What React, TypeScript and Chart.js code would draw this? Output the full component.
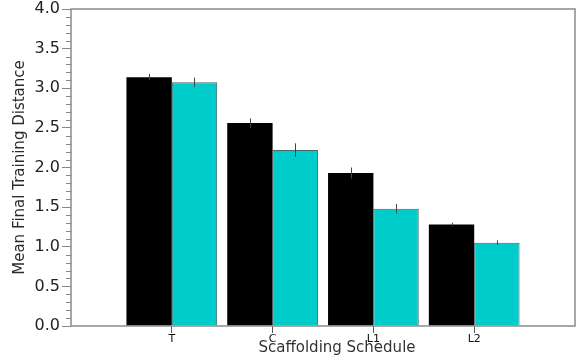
import React, { useEffect, useRef } from "react";
import { Chart, registerables } from "chart.js";

Chart.register(...registerables);

// Scaffolding schedules on the x axis (placed at 1..4 on a linear scale)
const schedules = ["T", "C", "L1", "L2"];
const positions = [1, 2, 3, 4];

// Mean final training distance per schedule, two conditions
const seriesA = [3.14, 2.56, 1.93, 1.28];
const seriesB = [3.075, 2.22, 1.48, 1.05];

// Standard errors
const errorsA = [0.04, 0.06, 0.07, 0.025];
const errorsB = [0.06, 0.085, 0.06, 0.03];

const yTickLabels = ["0.0", "0.5", "1.0", "1.5", "2.0", "2.5", "3.0", "3.5", "4.0"];

const FONT = "'DejaVu Sans', Verdana, sans-serif";

const framePlugin = {
  id: "frame",
  afterDraw(chart: any) {
    const { ctx, chartArea } = chart;
    const y = chart.scales.y;
    ctx.save();
    // minor ticks on the y axis every 0.1
    ctx.strokeStyle = "#888";
    ctx.lineWidth = 1;
    for (let i = 0; i <= 40; i++) {
      if (i % 5 === 0) continue;
      const py = Math.round(y.getPixelForValue(i / 10)) + 0.5;
      ctx.beginPath();
      ctx.moveTo(chartArea.left - 5, py);
      ctx.lineTo(chartArea.left, py);
      ctx.stroke();
    }
    // plot frame
    ctx.strokeStyle = "#8a8a8a";
    ctx.lineWidth = 1.5;
    ctx.strokeRect(chartArea.left, chartArea.top, chartArea.right - chartArea.left, chartArea.bottom - chartArea.top);
    // x axis title
    ctx.fillStyle = "#333";
    ctx.font = `15px ${FONT}`;
    ctx.textAlign = "center";
    ctx.textBaseline = "middle";
    ctx.fillText("Scaffolding Schedule", chartArea.left + 266, 348);
    ctx.restore();
  },
};

const errorBarPlugin = {
  id: "errorBars",
  afterDatasetsDraw(chart: any) {
    const { ctx } = chart;
    const y = chart.scales.y;
    const errs = [errorsA, errorsB];
    ctx.save();
    ctx.strokeStyle = "#444";
    ctx.lineWidth = 1;
    chart.data.datasets.forEach((ds: any, di: number) => {
      const meta = chart.getDatasetMeta(di);
      meta.data.forEach((bar: any, i: number) => {
        const v = ds.data[i].y;
        const e = errs[di][i];
        const x = Math.round(bar.x) + 0.5;
        ctx.beginPath();
        ctx.moveTo(x, y.getPixelForValue(v - e));
        ctx.lineTo(x, y.getPixelForValue(v + e));
        ctx.stroke();
      });
    });
    ctx.restore();
  },
};

export default function App() {
  const ref = useRef<HTMLCanvasElement>(null);

  useEffect(() => {
    if (!ref.current) return;
    const chart = new Chart(ref.current, {
      type: "bar",
      data: {
        datasets: [
          {
            label: "A",
            data: positions.map((p, i) => ({ x: p, y: seriesA[i] })),
            backgroundColor: "#000000",
            borderColor: "#000000",
            borderWidth: 0,
            barPercentage: 1.0,
            categoryPercentage: 0.9,
          },
          {
            label: "B",
            data: positions.map((p, i) => ({ x: p, y: seriesB[i] })),
            backgroundColor: "#00cccc",
            borderColor: "#3a6a6a",
            borderWidth: 1,
            barPercentage: 1.0,
            categoryPercentage: 0.9,
          },
        ],
      },
      options: {
        animation: false,
        responsive: false,
        layout: { padding: { top: 9, right: 8, left: 0, bottom: 0 } },
        plugins: { legend: { display: false }, tooltip: { enabled: false } },
        scales: {
          x: {
            type: "linear",
            min: 0,
            max: 5,
            offset: false,
            grid: { display: true, offset: false, drawOnChartArea: false, tickLength: 7, color: "#555", drawTicks: true },
            border: { display: false },
            afterBuildTicks: (scale: any) => {
              scale.ticks = positions.map((p) => ({ value: p }));
            },
            afterFit: (scale: any) => {
              scale.height = 34;
              scale.paddingLeft = 0;
              scale.paddingRight = 0;
            },
            ticks: {
              autoSkip: false,
              maxRotation: 0,
              padding: 0,
              color: "#111",
              font: { family: FONT, size: 11 },
              callback: (v: any) => schedules[positions.indexOf(Number(v))] ?? "",
            },
          },
          y: {
            min: 0,
            max: 4,
            grid: { display: true, drawOnChartArea: false, tickLength: 9, color: "#888" },
            border: { display: false },
            afterFit: (scale: any) => {
              scale.width = 71;
              scale.paddingTop = 0;
              scale.paddingBottom = 0;
            },
            ticks: {
              stepSize: 0.5,
              padding: 2,
              color: "#222",
              font: { family: FONT, size: 16 },
              callback: (v: any) => yTickLabels[Math.round(Number(v) * 2)],
            },
            title: {
              display: true,
              text: "Mean Final Training Distance",
              color: "#2a2a2a",
              font: { family: FONT, size: 15 },
              padding: { top: 11, bottom: 4 },
            },
          },
        },
      },
      plugins: [framePlugin, errorBarPlugin],
    });
    return () => chart.destroy();
  }, []);

  return (
    <div style={{ position: "fixed", left: 0, top: 0, width: 583, height: 360, background: "#fff" }}>
      <canvas ref={ref} width={583} height={360} />
    </div>
  );
}
